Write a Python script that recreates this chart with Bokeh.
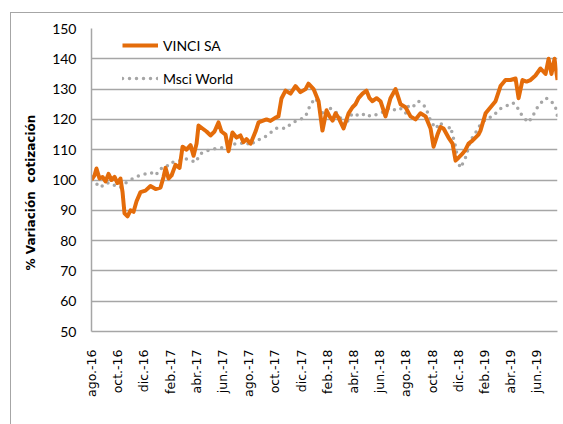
import math
from bokeh.plotting import figure
from bokeh.models import Range1d, FixedTicker, Legend, LegendItem
from bokeh.embed import file_html
from bokeh.resources import INLINE

# ---------------- data ----------------
# x = months elapsed since 1 Aug 2016
tick_months = [0, 2, 4, 6, 8, 10, 12, 14, 16, 18, 20, 22, 24, 26, 28, 30, 32, 34]
tick_labels = ["ago.-16", "oct.-16", "dic.-16", "feb.-17", "abr.-17", "jun.-17",
               "ago.-17", "oct.-17", "dic.-17", "feb.-18", "abr.-18", "jun.-18",
               "ago.-18", "oct.-18", "dic.-18", "feb.-19", "abr.-19", "jun.-19"]

vinci_month = [0.00, 0.23, 0.38, 0.61, 0.84, 1.07, 1.30, 1.53, 1.76, 1.98, 2.21, 2.37,
               2.52, 2.75, 2.98, 3.21, 3.44, 3.74, 4.12, 4.50, 4.89, 5.27, 5.50, 5.65,
               5.88, 6.11, 6.41, 6.72, 6.95, 7.25, 7.56, 7.79, 8.02, 8.17, 8.47, 8.78,
               9.08, 9.39, 9.69, 9.92, 10.23, 10.46, 10.76, 11.07, 11.37, 11.60, 11.83,
               12.14, 12.52, 12.75, 13.05, 13.36, 13.66, 14.05, 14.27, 14.50, 14.81,
               15.19, 15.57, 15.95, 16.34, 16.56, 16.95, 17.33, 17.63, 17.94, 18.17,
               18.40, 18.63, 18.85, 19.24, 19.62, 19.92, 20.15, 20.38, 20.69, 20.99,
               21.22, 21.45, 21.76, 22.06, 22.44, 22.82, 23.21, 23.44, 23.59, 23.97,
               24.35, 24.73, 25.11, 25.50, 25.88, 26.11, 26.41, 26.64, 26.87, 27.25,
               27.56, 27.79, 28.02, 28.32, 28.55, 28.78, 29.08, 29.31, 29.54, 29.69,
               30.08, 30.46, 30.84, 31.22, 31.60, 31.98, 32.37, 32.60, 32.90, 33.21,
               33.51, 33.89, 34.27, 34.66, 34.89, 35.11, 35.34, 35.57]
vinci = [100, 101.5, 103.8, 100.5, 101, 99.5, 102, 100, 101, 99, 100.5, 96,
         89, 88, 90, 89.5, 93, 96, 96.5, 98, 97, 97.5, 101, 104,
         100.5, 101.5, 105, 104, 111, 110, 111.5, 108, 112, 118, 117, 116,
         114.7, 116, 119, 116, 115, 109.5, 115.7, 114, 114.7, 112.5, 113.5,
         112, 116, 119, 119.5, 120, 119.5, 120.6, 121, 126.9, 129.5,
         128.5, 131, 129, 130, 131.8, 130, 126, 116.3, 123, 121,
         119.6, 122, 120.6, 117, 122, 124, 125, 127, 128.5, 129.5,
         127, 126, 127, 126, 121, 127, 130, 127, 125, 124,
         121, 120, 122, 121, 117, 111, 115, 117.5, 117, 114,
         112, 106.4, 107.4, 108.7, 110, 112, 113, 114, 115, 116.3,
         122, 124, 126, 131, 133, 133, 133.5, 127, 133, 132.5,
         133, 134.5, 136.8, 135, 140, 135, 140, 133]

msci_month = [0.00, 0.31, 0.69, 1.07, 1.45, 1.83, 2.21, 2.60, 2.98, 3.36, 3.74, 4.12,
              4.50, 4.89, 5.27, 5.65, 6.03, 6.41, 6.79, 7.18, 7.56, 7.94, 8.32, 8.70,
              9.08, 9.47, 9.85, 10.23, 10.61, 10.99, 11.37, 11.76, 12.14, 12.52, 13.05,
              13.51, 14.05, 14.43, 14.81, 15.34, 15.95, 16.34, 16.72, 17.10, 17.33,
              17.48, 17.86, 18.24, 18.78, 19.08, 19.39, 19.62, 19.92, 20.23, 20.53,
              20.92, 21.30, 21.68, 22.06, 22.44, 22.82, 23.21, 23.59, 23.97, 24.20,
              24.50, 24.96, 25.27, 25.50, 25.88, 26.26, 26.64, 27.02, 27.40, 27.79,
              28.02, 28.17, 28.55, 28.93, 29.31, 29.54, 30.08, 30.61, 31.22, 31.76,
              32.14, 32.37, 32.75, 33.13, 33.36, 33.66, 34.12, 34.66, 35.04, 35.42, 35.57]
msci = [100, 99, 97.5, 99, 99, 98, 97.5, 99, 100, 101, 101.5, 102,
        102.5, 101.5, 103.8, 104, 105.8, 106, 106.4, 107, 106.5, 105.8, 108.7, 109.5,
        110, 110.4, 110.5, 111, 111, 112, 112, 112.5, 111.4, 113, 113.7,
        115, 117, 117.3, 117, 119, 120, 121, 125, 127, 125,
        123, 121, 123.6, 122, 120, 118, 120, 122, 121.5, 121,
        122, 121, 121.5, 122, 123, 124, 123, 123.6, 122, 124.5,
        124, 126, 125, 124, 119.6, 117, 119, 116, 117.7, 111,
        105.4, 104, 107.4, 113, 115.5, 117.5, 120, 121, 123.6, 124.6,
        125.5, 125, 122, 120, 119, 121, 124.6, 127, 126.4, 124, 121]

y_ticks = [50, 60, 70, 80, 90, 100, 110, 120, 130, 140, 150]

# ---------------- figure ----------------
p = figure(width=563, height=424, output_backend="svg", toolbar_location=None,
           x_range=Range1d(0, 35.57), y_range=Range1d(50, 150))
p.min_border_left = 91
p.min_border_right = 6
p.min_border_top = 28
p.min_border_bottom = 93
p.outline_line_color = None
p.background_fill_color = "white"
p.border_fill_alpha = 0.0
# chart-area border (left and top edges visible in the reference)
p.styles = {
    "background": ("linear-gradient(#a6a6a6, #a6a6a6) 10px 12px / 1px 100% no-repeat, "
                   "linear-gradient(#a6a6a6, #a6a6a6) 10px 12px / 100% 1px no-repeat, "
                   "#ffffff"),
}

grid_col = "#a6a6a6"
p.xgrid.grid_line_color = None
p.ygrid.grid_line_color = grid_col
p.ygrid.grid_line_width = 1.5
p.ygrid.ticker = FixedTicker(ticks=y_ticks)

p.yaxis.ticker = FixedTicker(ticks=y_ticks)
p.yaxis.axis_line_color = grid_col
p.yaxis.axis_line_width = 1.5
p.yaxis.major_tick_line_color = None
p.yaxis.minor_tick_line_color = None
p.yaxis.major_label_standoff = 9
p.yaxis.major_label_text_font = "Lato"
p.yaxis.major_label_text_font_size = "14px"
p.yaxis.major_label_text_color = "#000000"
p.yaxis.axis_label = "% Variación\u00a0 cotización" + "\u00a0" * 6
p.yaxis.axis_label_text_font = "DejaVu Sans"
p.yaxis.axis_label_text_font_style = "bold"
p.yaxis.axis_label_text_font_size = "12px"
p.yaxis.axis_label_text_color = "#000000"
p.yaxis.axis_label_standoff = 11

p.xaxis.ticker = FixedTicker(ticks=tick_months)
p.xaxis.major_label_overrides = {m: lab for m, lab in zip(tick_months, tick_labels)}
p.xaxis.major_label_orientation = math.pi / 2
p.xaxis.axis_line_color = grid_col
p.xaxis.axis_line_width = 1.5
p.xaxis.major_tick_line_color = None
p.xaxis.minor_tick_line_color = None
p.xaxis.major_label_standoff = 12
p.xaxis.major_label_text_font = "DejaVu Sans"
p.xaxis.major_label_text_font_size = "12.5px"
p.xaxis.major_label_text_color = "#000000"

r_msci = p.line(msci_month, msci, line_color="#a6a6a6", line_width=3.5,
                line_dash="0 7", line_cap="round", line_join="round")
r_vinci = p.line(vinci_month, vinci, line_color="#e46c0a", line_width=4,
                 line_join="round")

legend = Legend(items=[LegendItem(label="VINCI SA", renderers=[r_vinci]),
                       LegendItem(label="Msci World", renderers=[r_msci])],
                location=(31, 243), margin=0, padding=9, spacing=13,
                glyph_width=36, glyph_height=20, label_height=20,
                label_standoff=5, border_line_color=None,
                background_fill_alpha=0.0,
                label_text_font="Lato", label_text_font_size="14px",
                label_text_color="#000000")
p.add_layout(legend, "center")

open("out.html", "w").write(file_html(p, INLINE))
